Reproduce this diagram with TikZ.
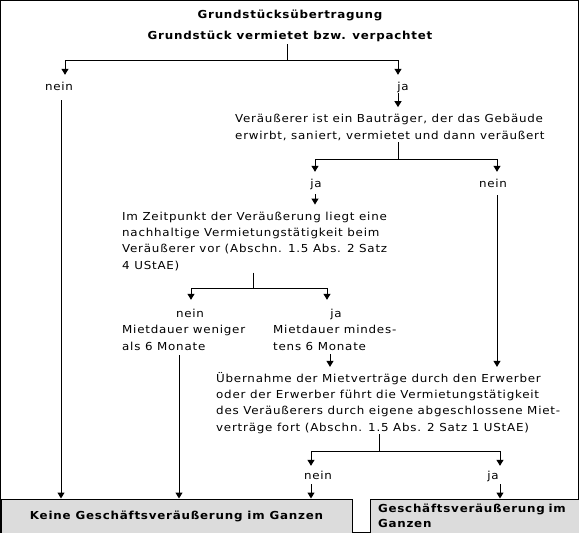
\documentclass[tikz,border=0pt]{standalone}
\usepackage{fontspec}
\setmainfont[FakeStretch=1.08,LetterSpace=7]{DejaVu Sans}
\usetikzlibrary{arrows.meta}
\definecolor{boxgray}{RGB}{220,220,220}
\tikzset{
  txt/.style={inner sep=0pt,align=left,anchor=base west,font=\fontsize{11}{16.3}\selectfont},
  lbl/.style={inner sep=0pt,anchor=base,text height=8pt,text depth=2pt,font=\fontsize{11}{13}\selectfont},
  hd/.style={inner sep=0pt,anchor=base,font=\fontsize{11}{13}\selectfont\bfseries},
  endbox/.style={draw,line width=1pt,fill=boxgray,anchor=north west,inner sep=0pt,minimum height=34pt,font=\fontsize{11}{15}\selectfont\bfseries},
  arr/.style={-{Triangle[width=7pt,length=6pt]},line width=1pt},
  ln/.style={line width=1pt}
}
\begin{document}
\begin{tikzpicture}[x=1pt,y=-1pt]
\useasboundingbox (0,0) rectangle (579,533);
\draw[ln] (0.5,0.5) rectangle (578.5,532.5);
% texts (multi-line texts sit on their last baseline)
\node[hd] (title) at (290,18) {Grundstücksübertragung};
\node[hd] (q0) at (290,39) {Grundstück vermietet bzw. verpachtet};
\node[lbl] (n0) at (59,90) {nein};
\node[lbl] (j0) at (403,90) {ja};
\node[txt] (q1) at (235,139) {Veräußerer ist ein Bauträger, der das Gebäude\\erwirbt, saniert, vermietet und dann veräußert};
\node[lbl] (j1) at (316,187) {ja};
\node[lbl] (n1) at (493,187) {nein};
\node[txt] (q2) at (122,269) {Im Zeitpunkt der Veräußerung liegt eine\\nachhaltige Vermietungstätigkeit beim\\Veräußerer vor (Abschn. 1.5 Abs. 2 Satz\\4 UStAE)};
\node[lbl] (n2) at (190,317) {nein};
\node[lbl] (j2) at (336,317) {ja};
\node[txt] (m1) at (122,350) {Mietdauer weniger\\als 6 Monate};
\node[txt] (m2) at (273,350) {Mietdauer mindes-\\tens 6 Monate};
\node[txt] (q3) at (216,431) {Übernahme der Mietverträge durch den Erwerber\\oder der Erwerber führt die Vermietungstätigkeit\\des Veräußerers durch eigene abgeschlossene Miet-\\verträge fort (Abschn. 1.5 Abs. 2 Satz 1 UStAE)};
\node[lbl] (n3) at (318,479) {nein};
\node[lbl] (j3) at (493,479) {ja};
\node[endbox,minimum width=351pt] (r1) at (0.5,498.5) {Keine Geschäftsveräußerung im Ganzen};
\node[endbox,minimum width=209pt,text width=193pt,align=left] (r2) at (369.5,498.5) {Geschäftsveräußerung im\\Ganzen};
% branch points and columns
\coordinate (b0) at (287,60);
\coordinate (b1) at (398,159);
\coordinate (b2) at (253,288);
\coordinate (b3) at (379,451);
\coordinate (c1) at (179,0);
\coordinate (c2) at (330,0);
% connectors
\draw[ln,shorten <=3pt] (b0 |- q0.south) -- (b0);
\draw[arr,shorten >=7pt] (b0) -| ([xshift=6pt]n0.north);
\draw[arr,shorten >=7pt] (b0) -| ([xshift=-5pt]j0.north);
\draw[arr,shorten <=8pt] ([xshift=2pt]n0.south) -- ([xshift=2pt]n0.south |- r1.north);
\draw[arr,shorten <=1pt,shorten >=7pt] (b1 |- j0.south) -- (b1 |- q1.north);
\draw[ln,shorten <=2pt] (b1 |- q1.south) -- (b1);
\draw[arr,shorten >=7pt] (b1) -| ([xshift=-1pt]j1.north);
\draw[arr,shorten >=7pt] (b1) -| ([xshift=4pt]n1.north);
\draw[arr,shorten <=5pt,shorten >=7pt] ([xshift=-1pt]j1.south) -- ([xshift=-1pt]j1.south |- q2.north);
\draw[arr,shorten <=6pt,shorten >=5pt] ([xshift=4pt]n1.south) -- ([xshift=4pt]n1.south |- q3.north);
\draw[ln,shorten <=2pt] (b2 |- q2.south) -- (b2);
\draw[arr,shorten >=9pt] (b2) -| ([xshift=1pt]n2.north);
\draw[arr,shorten >=9pt] (b2) -| ([xshift=-9pt]j2.north);
\draw[arr,shorten <=5pt] (c1 |- m1.south) -- (c1 |- r1.north);
\draw[arr,shorten <=4pt,shorten >=5pt] (c2 |- m2.south) -- (c2 |- q3.north);
\draw[ln,shorten <=1pt] (b3 |- q3.south) -- (b3);
\draw[arr,shorten >=5pt] (b3) -| ([xshift=-7pt]n3.north);
\draw[arr,shorten >=5pt] (b3) -| ([xshift=7pt]j3.north);
\draw[arr,shorten <=3pt] ([xshift=-7pt]n3.south) -- ([xshift=-7pt]n3.south |- r1.north);
\draw[arr,shorten <=3pt] ([xshift=7pt]j3.south) -- ([xshift=7pt]j3.south |- r2.north);
\end{tikzpicture}
\end{document}
